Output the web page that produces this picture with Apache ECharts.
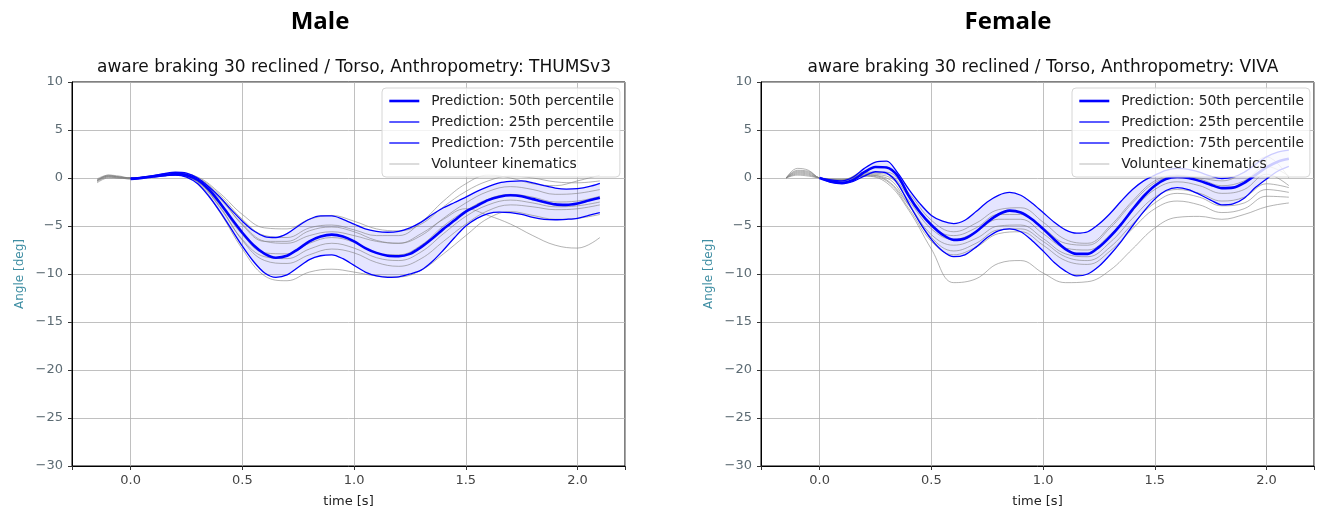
<!DOCTYPE html>
<html>
<head>
<meta charset="utf-8">
<script src="https://cdn.jsdelivr.net/npm/echarts@6/dist/echarts.min.js"></script>
<style>
html,body{margin:0;padding:0;background:#fff;}
#c{width:1319px;height:513px;}
</style>
</head>
<body>
<div id="c"></div>
<script>
// ---- time grids ----
const tPred = [0,0.05,0.1,0.15,0.2,0.25,0.3,0.35,0.4,0.45,0.5,0.55,0.6,0.65,0.7,0.75,0.8,0.85,0.9,0.95,1.0,1.05,1.1,1.15,1.2,1.25,1.3,1.35,1.4,1.45,1.5,1.55,1.6,1.65,1.7,1.75,1.8,1.85,1.9,1.95,2.0,2.05,2.1];
const tVol = [-0.15,-0.1,-0.05,0,0.1,0.2,0.3,0.4,0.5,0.6,0.7,0.8,0.9,1.0,1.1,1.2,1.3,1.4,1.5,1.6,1.7,1.8,1.9,2.0,2.1];

// ---- Male (THUMSv3) predictions ----
const maleP50 = [-0.1,0.0,0.15,0.3,0.4,0.3,-0.2,-1.2,-2.6,-4.2,-5.7,-7.0,-7.9,-8.3,-8.1,-7.4,-6.6,-6.1,-5.9,-6.1,-6.6,-7.3,-7.8,-8.1,-8.15,-7.9,-7.2,-6.3,-5.3,-4.4,-3.5,-2.9,-2.3,-1.95,-1.8,-1.9,-2.2,-2.5,-2.75,-2.8,-2.65,-2.35,-2.05];
const maleP25 = [-0.1,0.0,0.15,0.25,0.3,0.1,-0.6,-1.9,-3.5,-5.3,-7.1,-8.7,-9.9,-10.35,-10.1,-9.3,-8.5,-8.1,-8.0,-8.4,-9.1,-9.8,-10.2,-10.35,-10.3,-10.0,-9.6,-8.7,-7.5,-6.2,-5.0,-4.2,-3.7,-3.55,-3.6,-3.8,-4.1,-4.3,-4.35,-4.3,-4.2,-3.9,-3.6];
const maleP75 = [0.0,0.1,0.25,0.45,0.6,0.5,0.0,-0.9,-2.0,-3.3,-4.5,-5.5,-6.1,-6.2,-5.8,-5.0,-4.3,-3.95,-3.95,-4.3,-4.8,-5.3,-5.55,-5.65,-5.55,-5.2,-4.6,-3.8,-3.1,-2.55,-2.0,-1.4,-0.9,-0.5,-0.35,-0.3,-0.5,-0.8,-1.05,-1.15,-1.1,-0.9,-0.55];

// ---- Male volunteers ----
const maleV1 = [-0.3,0.2,0.1,0.0,0.2,0.4,-0.3,-2.8,-5.9,-7.8,-7.9,-6.8,-6.2,-6.7,-7.8,-8.0,-7.0,-5.0,-3.4,-2.2,-1.7,-2.0,-2.5,-2.4,-1.9];
const maleV2 = [-0.3,0.3,0.2,0.0,0.25,0.5,0.1,-1.6,-3.8,-5.2,-5.3,-4.3,-3.9,-4.5,-5.3,-5.5,-4.8,-3.0,-1.4,-0.3,0.2,0.0,-0.4,-0.5,-0.3];
const maleV3 = [-0.4,0.1,0.0,-0.1,0.1,0.3,-0.5,-3.6,-7.4,-10.2,-10.7,-9.8,-9.5,-9.8,-10.2,-10.3,-9.6,-7.9,-6.0,-4.2,-3.5,-3.9,-4.3,-4.2,-3.8];
const maleV4 = [-0.2,0.2,0.1,0.0,0.2,0.4,-0.2,-2.2,-4.8,-6.6,-6.8,-6.0,-5.6,-6.0,-6.6,-6.8,-5.8,-4.3,-3.2,-3.9,-4.8,-6.0,-7.0,-7.3,-6.2];
const maleV5 = [-0.1,0.3,0.1,0.0,0.2,0.4,-0.1,-2.0,-4.9,-6.6,-6.6,-5.5,-5.1,-5.6,-6.5,-6.8,-6.0,-4.2,-2.6,-1.4,-0.9,-1.2,-1.7,-1.6,-1.2];
const maleV6 = [-0.5,0.0,0.0,-0.1,0.1,0.3,-0.4,-3.0,-6.5,-8.6,-8.9,-8.0,-7.4,-7.8,-8.8,-9.2,-8.4,-6.6,-4.8,-3.4,-2.8,-3.0,-3.3,-3.2,-2.8];
const maleV7 = [-0.2,0.2,0.1,0.0,0.2,0.4,0.0,-1.8,-4.3,-6.0,-6.2,-5.2,-4.9,-5.4,-6.0,-6.0,-4.6,-2.4,-0.6,0.3,0.0,-0.6,-0.8,-0.3,0.3];
const maleV8 = [-0.3,0.1,0.0,0.0,0.15,0.35,-0.4,-3.1,-6.4,-8.2,-8.4,-7.4,-6.8,-7.3,-8.3,-8.6,-7.7,-5.8,-4.0,-2.8,-2.3,-2.6,-3.0,-2.9,-2.5];

// ---- Female (VIVA) predictions ----
const femP50 = [0.0,-0.35,-0.5,-0.2,0.6,1.15,1.1,0.2,-1.9,-3.6,-4.9,-5.9,-6.45,-6.3,-5.6,-4.6,-3.8,-3.4,-3.6,-4.3,-5.3,-6.4,-7.4,-7.9,-7.9,-7.2,-6.1,-4.8,-3.3,-1.9,-0.8,-0.1,0.1,0.0,-0.3,-0.7,-1.05,-1.0,-0.5,0.3,1.1,1.7,2.0];
const femP25 = [0.0,-0.45,-0.6,-0.35,0.2,0.65,0.5,-0.6,-2.7,-4.7,-6.4,-7.6,-8.2,-8.0,-7.2,-6.2,-5.5,-5.3,-5.6,-6.5,-7.6,-8.8,-9.7,-10.2,-10.0,-9.2,-8.0,-6.6,-5.0,-3.5,-2.2,-1.3,-1.0,-1.2,-1.7,-2.3,-2.8,-2.7,-2.1,-1.0,-0.1,0.7,1.2];
const femP75 = [0.0,-0.2,-0.3,0.1,1.0,1.65,1.75,0.5,-1.2,-2.7,-3.9,-4.5,-4.75,-4.4,-3.5,-2.5,-1.8,-1.5,-1.8,-2.6,-3.6,-4.6,-5.4,-5.75,-5.6,-4.8,-3.7,-2.4,-1.2,-0.3,0.3,0.8,1.0,0.9,0.6,0.2,-0.05,0.1,0.6,1.4,2.2,2.7,2.9];

// ---- Female volunteers ----
const femV1 = [0.0,0.6,0.5,0.0,-0.3,0.4,0.2,-2.4,-5.3,-6.4,-5.6,-4.3,-4.3,-5.8,-7.3,-7.5,-5.9,-3.4,-1.2,-0.4,-0.8,-1.6,-1.2,0.4,-0.8];
const femV2 = [0.0,0.4,0.3,0.0,-0.2,0.2,-0.5,-3.4,-7.4,-10.9,-10.5,-8.9,-8.6,-9.9,-10.9,-10.8,-9.6,-7.4,-5.2,-4.1,-4.0,-4.3,-3.8,-3.0,-2.6];
const femV3 = [0.0,0.8,0.7,0.0,-0.3,0.3,0.0,-2.8,-5.9,-7.0,-6.3,-5.0,-4.9,-6.3,-7.9,-8.2,-6.7,-4.2,-2.0,-1.2,-1.6,-2.4,-2.0,-0.6,-1.0];
const femV4 = [0.0,1.0,0.8,0.0,-0.2,0.6,0.6,-1.6,-4.4,-5.6,-4.7,-3.3,-3.1,-4.6,-6.4,-6.8,-5.0,-2.4,-0.3,0.3,-0.1,-0.8,-0.3,1.2,0.2];
const femV5 = [0.0,0.5,0.4,0.0,-0.2,0.3,-0.2,-2.9,-6.2,-7.6,-6.8,-5.4,-5.3,-6.6,-8.2,-8.6,-7.2,-4.8,-2.6,-1.6,-2.0,-2.9,-2.6,-1.2,-1.5];
const femV6 = [0.0,0.7,0.6,0.0,-0.3,0.5,0.4,-2.0,-5.0,-6.0,-5.2,-3.8,-3.8,-5.2,-6.8,-7.0,-5.2,-2.6,-0.5,0.2,0.0,-0.3,0.6,2.2,0.0];
const femV7 = [0.0,0.3,0.2,0.0,-0.1,0.2,-0.3,-3.2,-6.6,-8.0,-7.2,-5.8,-5.6,-7.0,-8.6,-9.0,-7.6,-5.3,-3.2,-2.4,-2.8,-3.6,-3.2,-1.9,-2.0];

// ---- tick labels / text ----
const yTicks = [-30,-25,-20,-15,-10,-5,0,5,10];
const xTickLabels = ['0.0','0.5','1.0','1.5','2.0'];
const NAME50 = 'Prediction: 50th percentile';
const NAME25 = 'Prediction: 25th percentile';
const NAME75 = 'Prediction: 75th percentile';
const NAMEV = 'Volunteer kinematics';

function pairs(ts, vs){ return ts.map((t,i)=>[t, vs[i]]); }

const FONT = 'DejaVu Sans';
const BLUE = '#0000ff';
const SM = 0.3;

function chartSeries(idx, p25, p50, p75, vols){
  const s = [];
  s.push({type:'custom', xAxisIndex:idx, yAxisIndex:idx, data:pairs(tPred,p50), silent:true, z:1, clip:true,
    encode:{x:0, y:1},
    renderItem:function(params, api){
      if (params.dataIndex !== 0) return;
      const pts = [];
      for (let i=0;i<tPred.length;i++) pts.push(api.coord([tPred[i], p75[i]]));
      for (let i=tPred.length-1;i>=0;i--) pts.push(api.coord([tPred[i], p25[i]]));
      return {type:'polygon', shape:{points:pts}, style:{fill:'rgba(0,0,255,0.1)', stroke:null}};
    }});
  vols.forEach(v=>{
    s.push({type:'line', name:NAMEV, xAxisIndex:idx, yAxisIndex:idx, data:pairs(tVol,v),
      symbol:'none', smooth:0.4, color:'#808080', lineStyle:{width:0.8, color:'#808080', opacity:0.75}, z:2});
  });
  s.push({type:'line', name:NAME25, xAxisIndex:idx, yAxisIndex:idx, data:pairs(tPred,p25),
    symbol:'none', smooth:SM, color:BLUE, lineStyle:{width:1.3,color:BLUE}, z:3});
  s.push({type:'line', name:NAME75, xAxisIndex:idx, yAxisIndex:idx, data:pairs(tPred,p75),
    symbol:'none', smooth:SM, color:BLUE, lineStyle:{width:1.3,color:BLUE}, z:3});
  s.push({type:'line', name:NAME50, xAxisIndex:idx, yAxisIndex:idx, data:pairs(tPred,p50),
    symbol:'none', smooth:SM, color:BLUE, lineStyle:{width:2.6,color:BLUE}, z:3});
  return s;
}

function xAxisCfg(idx){
  return {type:'value', gridIndex:idx, min:-0.2625, max:2.2125, splitNumber:5,
    name:'time [s]', nameLocation:'middle', nameGap:29,
    nameTextStyle:{fontFamily:FONT, fontSize:13, color:'#222'},
    axisLine:{show:true, onZero:false, lineStyle:{color:'#000', width:1}},
    axisTick:{show:true, length:4, lineStyle:{color:'#333'}},
    axisLabel:{fontFamily:FONT, fontSize:13, color:'#444', margin:8,
      formatter:v=>{ const k=Math.round(v*2); return Math.abs(v*2-k)<1e-6 ? xTickLabels[k] : ''; }},
    splitLine:{show:true, lineStyle:{color:'#b0b0b0', width:0.8}}};
}
function yAxisCfg(idx){
  return {type:'value', gridIndex:idx, min:yTicks[0], max:yTicks[yTicks.length-1], interval:5,
    name:'Angle [deg]', nameLocation:'middle', nameGap:46, nameRotate:90,
    nameTextStyle:{fontFamily:FONT, fontSize:12, color:'#3f8ea3'},
    axisLine:{show:true, onZero:false, lineStyle:{color:'#000', width:1}},
    axisTick:{show:true, length:4, lineStyle:{color:'#333'}},
    axisLabel:{fontFamily:FONT, fontSize:13, color:'#5c6b73', margin:9,
      formatter:v=> v<0 ? '\u2212'+Math.abs(v) : String(v)},
    splitLine:{show:true, lineStyle:{color:'#b0b0b0', width:0.8}}};
}
function legendCfg(left){
  const hide = {opacity:0, borderWidth:0};
  return {left:left, top:88, orient:'vertical', itemWidth:30, itemHeight:14, itemGap:7, z:20,
    padding:[6,6,6,6], backgroundColor:'rgba(255,255,255,0.8)', borderColor:'#d6d6d6', borderWidth:1, borderRadius:4,
    selectedMode:false, textStyle:{fontFamily:FONT, fontSize:13.8, color:'#222'},
    formatter:n=>'\u2002'+n,
    data:[
      {name:NAME50, itemStyle:hide, lineStyle:{width:2.6, color:BLUE}},
      {name:NAME25, itemStyle:hide, lineStyle:{width:1.3, color:BLUE}},
      {name:NAME75, itemStyle:hide, lineStyle:{width:1.3, color:BLUE}},
      {name:NAMEV, itemStyle:hide, lineStyle:{width:1, color:'#808080', opacity:0.55}}
    ]};
}
function txt(x,y,text,font,color){
  return {type:'text', x:x, y:y, silent:true,
    style:{text:text, font:font, fill:color, textAlign:'center', textVerticalAlign:'middle', align:'center', verticalAlign:'middle'}};
}

const chart = echarts.init(document.getElementById('c'), null, {renderer:'canvas'});
chart.setOption({
  animation:false,
  backgroundColor:'#fff',
  grid:[
    {left:72, top:82, width:553, height:386, show:true, borderColor:'#000', borderWidth:1, backgroundColor:'transparent'},
    {left:761, top:82, width:553, height:386, show:true, borderColor:'#000', borderWidth:1, backgroundColor:'transparent'}
  ],
  xAxis:[xAxisCfg(0), xAxisCfg(1)],
  yAxis:[yAxisCfg(0), yAxisCfg(1)],
  legend:[legendCfg(382), legendCfg(1072)],
  graphic:[
    txt(320,22,'Male','bold 24px "Open Sans"','#000'),
    txt(1008,22,'Female','bold 24px "Open Sans"','#000'),
    txt(354,68,'aware braking 30 reclined / Torso, Anthropometry: THUMSv3','17px "DejaVu Sans"','#111'),
    txt(1043,68,'aware braking 30 reclined / Torso, Anthropometry: VIVA','17px "DejaVu Sans"','#111')
  ],
  series:[].concat(
    chartSeries(0, maleP25, maleP50, maleP75, [maleV1,maleV2,maleV3,maleV4,maleV5,maleV6,maleV7,maleV8]),
    chartSeries(1, femP25, femP50, femP75, [femV1,femV2,femV3,femV4,femV5,femV6,femV7])
  )
});
</script>
</body>
</html>
